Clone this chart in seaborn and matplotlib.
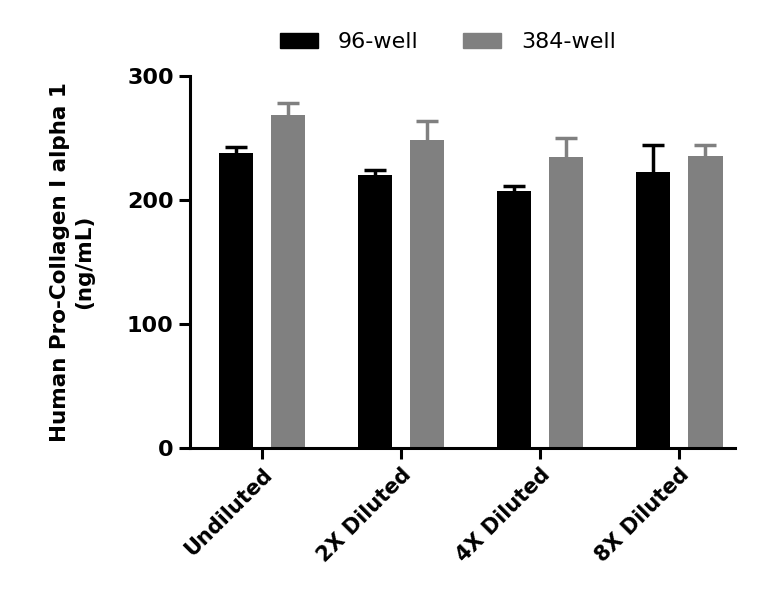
import matplotlib
matplotlib.use("Agg")
import matplotlib.pyplot as plt
import seaborn as sns
import numpy as np
import pandas as pd

# --- data ---
categories = ["Undiluted", "2X Diluted", "4X Diluted", "8X Diluted"]
series = ["96-well", "384-well"]
means_96 = [238, 220, 207, 223]
err_96 = [4.5, 4, 4.5, 21]
means_384 = [268.5, 248, 234.5, 235.5]
err_384 = [10, 16, 15.5, 9]
y_ticks = [0, 100, 200, 300]

colors = {"96-well": "#000000", "384-well": "#808080"}

sns.set_style("ticks", {"text.color": "black", "axes.labelcolor": "black",
                        "xtick.color": "black", "ytick.color": "black",
                        "axes.edgecolor": "black"})
plt.rcParams["font.family"] = ["DejaVu Sans"]

df = pd.DataFrame({
    "sample": categories * 2,
    "plate": ["96-well"] * 4 + ["384-well"] * 4,
    "conc": means_96 + means_384,
})

fig = plt.figure(figsize=(7.68, 6.08), dpi=100)
ax = fig.add_axes([0.247, 0.263, 0.71, 0.612])

sns.barplot(data=df, x="sample", y="conc", hue="plate", hue_order=series,
            palette=colors, width=0.75, gap=0.345, errorbar=None, ax=ax,
            saturation=1, legend=False, linewidth=0)

# error bars (upper only), on the bar centers
for cont, errs, name in zip(ax.containers, [err_96, err_384], series):
    xs = [p.get_x() + p.get_width() / 2 for p in cont.patches]
    ys = [p.get_height() for p in cont.patches]
    eb = ax.errorbar(xs, ys, yerr=[np.zeros(len(errs)), errs], fmt="none",
                     ecolor=colors[name], elinewidth=2.5, capsize=8,
                     capthick=2.5, zorder=1)
    # hide the lower cap so only the upper whisker shows
    eb[1][0].set_visible(False)

ax.set_ylim(0, 300)
ax.set_xlim(-0.52, 3.4)
ax.set_yticks(y_ticks)
ax.set_xlabel("")
ax.set_ylabel("Human Pro-Collagen I alpha 1\n(ng/mL)", fontsize=15.5,
              fontweight="bold", labelpad=24)
sns.despine(ax=ax)
for s in ["left", "bottom"]:
    ax.spines[s].set_linewidth(2.2)
ax.tick_params(axis="both", width=2.2, length=8, labelsize=16)
for lab in ax.get_yticklabels():
    lab.set_fontweight("bold")
ax.set_xticks(range(len(categories)))
ax.set_xticklabels(categories, rotation=45, ha="right",
                   rotation_mode="anchor", fontweight="bold", fontsize=15)

handles = [plt.Rectangle((0, 0), 1, 1, color=colors[s]) for s in series]
fig.legend(handles, series, loc="center", bbox_to_anchor=(448 / 768, 1 - 42 / 608),
           ncol=2, frameon=False, fontsize=16, handlelength=1.7,
           handleheight=0.65, handletextpad=0.9, columnspacing=2.0)

fig.savefig("out.png", dpi=100)
